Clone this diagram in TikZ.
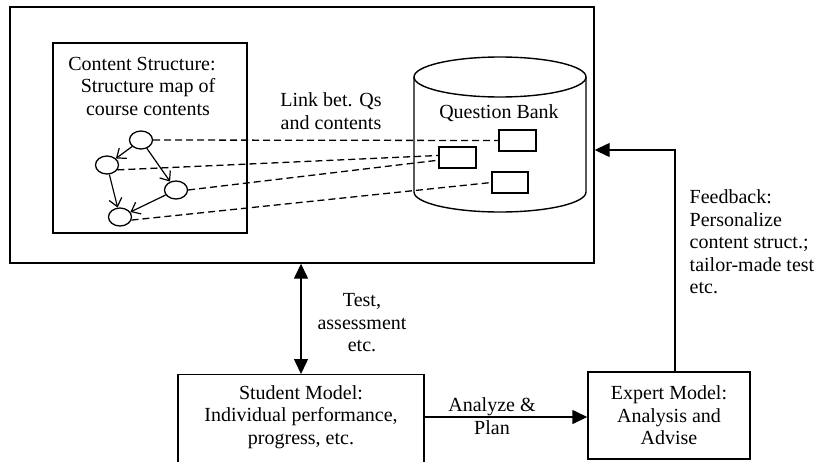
\documentclass[tikz,border=0pt]{standalone}
\usepackage{fontspec}
\setmainfont{Liberation Serif}
\usetikzlibrary{arrows.meta,shapes.geometric}
\begin{document}
\begin{tikzpicture}[x=1pt,y=-1pt,
  line width=1.4pt,
  every node/.style={font=\fontsize{20}{22.5}\selectfont, inner sep=0pt},
  box/.style={draw, rectangle, inner sep=0pt},
  topic/.style={draw, ellipse, minimum width=23pt, minimum height=18pt, inner sep=0pt, line width=1.3pt},
  slot/.style={draw, rectangle, minimum width=37pt, minimum height=21pt, line width=1.3pt},
  link/.style={dash pattern=on 7pt off 4pt, line width=1.3pt},
  order/.style={-{Straight Barb[length=8pt,width=13pt]}, line width=1.2pt},
  flow/.style={-{Triangle[length=15pt,width=14pt]}},
  note/.style={align=center}
]
\useasboundingbox (0,0) rectangle (821,461);
\clip (0,0) rectangle (821,461);

% outer frame and content-structure panel
\node[box, minimum width=584pt, minimum height=256pt] (outer) at (302,135) {};
\node[box, minimum width=194pt, minimum height=190pt] (cs) at (150,138) {};
\node[note] (cstxt) at (148,86) {Content Structure:\hspace*{12pt}\\Structure map of\\course contents};
\node[note] (linktxt) at (331,111) {Link bet. Qs\\and contents};

% question bank cylinder
\draw (414,77) -- (414,192) arc[start angle=180, end angle=0, x radius=86, y radius=20] -- (586,77);
\draw (500,77) ellipse [x radius=86, y radius=20];
\node (qbtxt) at (499,113) {Question Bank};
\node[slot] (r1) at (517.5,140.5) {};
\node[slot] (r2) at (457.5,157.5) {};
\node[slot, minimum width=36pt] (r3) at (510,182.5) {};

% structure map
\node[topic] (c1) at (141,140) {};
\node[topic] (c2) at (107,165) {};
\node[topic] (c3) at (176,190) {};
\node[topic] (c4) at (120,217) {};
\draw[order] (c1) -- (c2);
\draw[order] (c1) -- (c3);
\draw[order] (c2) -- (c4);
\draw[order] (c3) -- (c4);

% links between questions and contents
\draw[link] (c1.east) -- (r1.west);
\draw[link] (c2.-25) -- (r2.174);
\draw[link] (c3.east) -- (r2.188);
\draw[link] (c4.-15) -- (r3.west);

% student and expert models
\node[box, minimum width=246pt, minimum height=110pt, anchor=north] (student) at (301,374) {};
\node[note] (stxt) at (301,417) {Student Model:\\Individual performance,\\progress, etc.};
\node[box, note, minimum width=162pt, minimum height=87pt] (expert) at (669,415.5) {Expert Model:\\Analysis and\\Advise};

\node[note] (testtxt) at (362,323) {Test,\\assessment\\etc.};
\node[note] (antxt) at (492,416) {Analyze \&\\Plan};
\node[align=left, anchor=west] (fbtxt) at (689,242) {Feedback:\\Personalize\\content struct.;\\tailor-made test\\etc.};

% connectors
\draw[{Triangle[length=15pt,width=14pt]}-{Triangle[length=15pt,width=14pt]}] (student.north |- outer.south) -- (student.north);
\draw[flow] (stxt.center -| student.east) -- (stxt.center -| expert.west);
\coordinate (fbturn) at (675,150);
\draw[flow] (fbturn |- expert.north) -- (fbturn) -- (fbturn -| outer.east);
\end{tikzpicture}
\end{document}
